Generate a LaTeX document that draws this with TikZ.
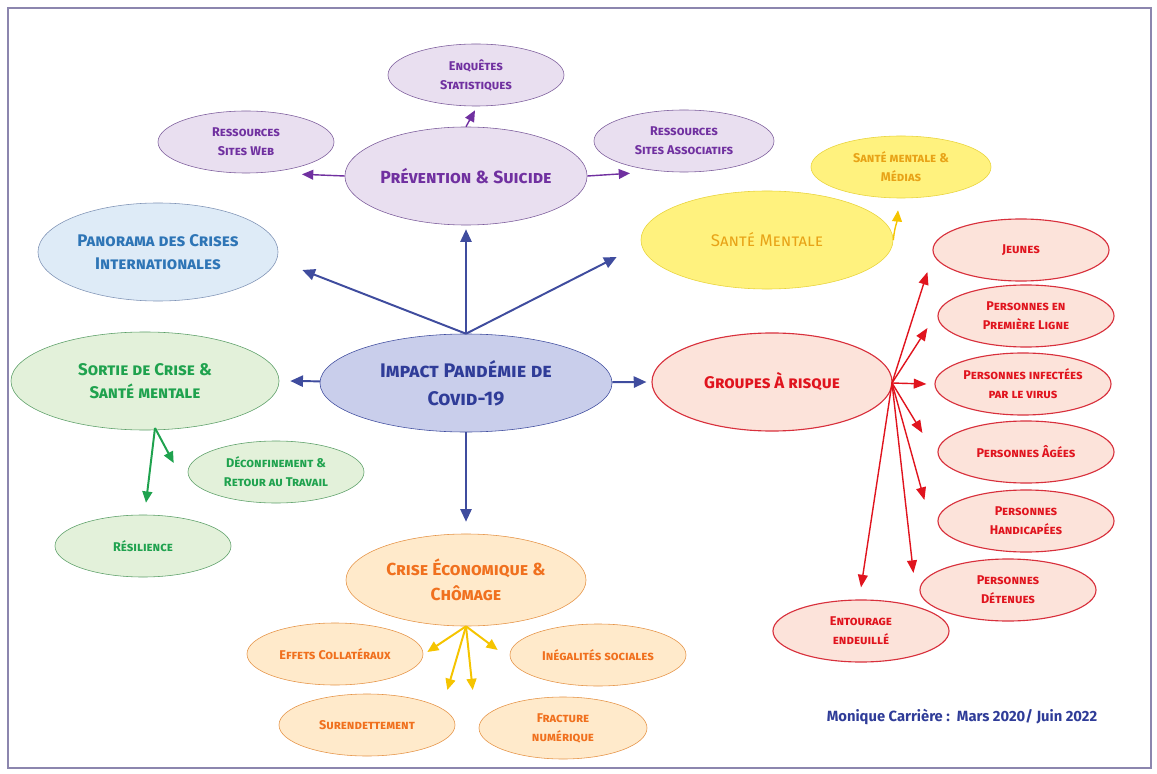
\documentclass[tikz,border=0pt]{standalone}
\usepackage{fontspec}
\setmainfont{Fira Sans}
\usetikzlibrary{shapes.geometric,arrows.meta,calc}

\definecolor{purplefill}{HTML}{E9DFF0}
\definecolor{purpleline}{HTML}{7A5A9A}
\definecolor{purpletext}{HTML}{7030A0}
\definecolor{bluefill}{HTML}{DEEBF7}
\definecolor{blueline}{HTML}{7F93B5}
\definecolor{bluetext}{HTML}{2E75B6}
\definecolor{corefill}{HTML}{C9CEEB}
\definecolor{coreline}{HTML}{3F4C9E}
\definecolor{coretext}{HTML}{2F3C98}
\definecolor{yellowfill}{HTML}{FFF27E}
\definecolor{yellowline}{HTML}{E8D33A}
\definecolor{yellowtext}{HTML}{E8A317}
\definecolor{yellowarrow}{HTML}{F5C400}
\definecolor{redfill}{HTML}{FCE3DA}
\definecolor{redline}{HTML}{D8303C}
\definecolor{redtext}{HTML}{E0141E}
\definecolor{greenfill}{HTML}{E3F1DA}
\definecolor{greenline}{HTML}{5A9E66}
\definecolor{greentext}{HTML}{1FA24E}
\definecolor{orangefill}{HTML}{FFEACB}
\definecolor{orangeline}{HTML}{E59244}
\definecolor{orangetext}{HTML}{F0701E}
\definecolor{framecol}{HTML}{8C86AE}

\begin{document}
\begin{tikzpicture}[x=0.025cm,y=-0.025cm,
	every node/.style={ellipse,draw,align=center,inner sep=0,font=\bfseries\scshape},
	big/.style={minimum width=6cm,minimum height=2.45cm,font=\fontsize{12}{16}\selectfont\bfseries\scshape},
	leaf/.style={minimum width=4.4cm,minimum height=1.55cm,font=\fontsize{9}{13.5}\selectfont\bfseries\scshape},
	prev/.style={fill=purplefill,draw=purpleline,text=purpletext},
	pano/.style={fill=bluefill,draw=blueline,text=bluetext},
	core/.style={fill=corefill,draw=coreline,text=coretext},
	ment/.style={fill=yellowfill,draw=yellowline,text=yellowtext},
	risk/.style={fill=redfill,draw=redline,text=redtext,thick},
	exit/.style={fill=greenfill,draw=greenline,text=greentext},
	econ/.style={fill=orangefill,draw=orangeline,text=orangetext},
	link/.style={-{Triangle[length=9pt,width=8pt]},line width=1.4pt},
	twig/.style={-{Triangle[length=8pt,width=7pt]},line width=1pt}]
% page and frame
\useasboundingbox (0,0) rectangle (1157,774);
\draw[framecol,line width=1pt] (8,8) rectangle (1151,768);

% centre
\node[big,core,minimum width=7.3cm,font=\fontsize{14}{20}\selectfont\bfseries\scshape] (covid) at (466,383) {Impact Pandémie de\\Covid-19};

% prevention branch
\node[big,prev,font=\fontsize{12.5}{16}\selectfont\bfseries\scshape] (prev) at (466,176) {Prévention \& Suicide};
\node[leaf,prev] (enq) at (476,75) {Enquêtes\\Statistiques};
\node[leaf,prev] (web) at (246,142) {Ressources\\Sites Web};
\node[leaf,prev,minimum width=4.5cm] (asso) at (684,141) {Ressources\\Sites Associatifs};

% panorama and mental health
\node[big,pano] (pano) at (158,252) {Panorama des Crises\\Internationales};
\node[big,ment,minimum width=6.3cm] (ment) at (767,240) {\mdseries Santé Mentale};
\node[leaf,ment,minimum width=4.5cm] (media) at (901,167) {Santé mentale \&\\Médias};

% risk groups
\node[big,risk] (risk) at (772,382) {Groupes À risque};
\node[leaf,risk] (young) at (1021,250) {Jeunes};
\node[leaf,risk] (front) at (1026,316) {Personnes en\\Première Ligne};
\node[leaf,risk] (virus) at (1023,384) {Personnes infectées\\par le virus};
\node[leaf,risk] (old) at (1026,452) {Personnes Âgées};
\node[leaf,risk] (handi) at (1026,521) {Personnes\\Handicapées};
\node[leaf,risk] (jail) at (1008,590) {Personnes\\Détenues};
\node[leaf,risk] (grief) at (861,631) {Entourage\\endeuillé};

% way out of the crisis
\node[big,exit,minimum width=6.7cm] (exit) at (145,381) {Sortie de Crise \&\\Santé mentale};
\node[leaf,exit] (deconf) at (276,472) {Déconfinement \&\\Retour au Travail};
\node[leaf,exit] (resil) at (143,546) {Résilience};

% economic crisis
\node[big,econ,minimum height=2.3cm,font=\fontsize{12.4}{18}\selectfont\bfseries\scshape] (econ) at (466,580) {Crise Économique \&\\Chômage};
\node[leaf,econ] (coll) at (335,654) {Effets Collatéraux};
\node[leaf,econ] (ineq) at (598,655) {Inégalités sociales};
\node[leaf,econ,minimum width=4.4cm] (debt) at (367,725) {Surendettement};
\node[leaf,econ,minimum width=4.2cm] (digit) at (563,728) {Fracture\\numérique};

\node[draw=none,font=\fontsize{10.5}{12}\selectfont\bfseries,text=coretext] (sign) at (962,717) {Monique Carrière :\ \ Mars 2020/ Juin 2022};

% arrows out of the centre
\coordinate (top) at (covid.north);
\begin{scope}[coreline,link]
\draw (top) -- ($(prev.south)+(0,4)$);
\draw (top) -- ($(pano.east)+(24,18)$);
\draw (top) -- ($(ment.west)+(-24,17)$);
\draw (covid) -- ($(exit.east)+(11,0)$);
\draw (covid) -- ($(risk.west)+(-5,0)$);
\draw (covid) -- ($(econ.north)+(0,-12)$);
\end{scope}

% sub-branches
\begin{scope}[purpletext,twig]
\draw (prev.north) -- ($(enq.south)+(-1,4)$);
\draw (prev.west) -- ($(web.south)+(56,1)$);
\draw (prev.east) -- ($(asso.south)+(-54,1)$);
\end{scope}
\draw[yellowarrow,twig] (ment.east) to[out=85,in=-95] ($(media.south)+(-3,12)$);
\coordinate (hub) at (892,383);
\begin{scope}[redtext,-{Triangle[length=9pt,width=7pt]},line width=1pt]
\draw (hub) -- ($(young.west)+(-5,22)$);
\draw (hub) -- ($(front.west)+(-10,12)$);
\draw (hub) -- ($(virus.west)+(-8,0)$);
\draw (hub) -- ($(old.west)+(-15,-19)$);
\draw (hub) -- ($(handi.west)+(-13,-21)$);
\draw (hub) -- ($(jail.west)+(-6,-17)$);
\draw (hub) -- ($(grief.north)+(0,-12)$);
\end{scope}
\coordinate (foot) at (155,428);
\begin{scope}[greentext,twig,line width=1.4pt]
\draw (foot) -- ($(deconf.west)+(-14,-9)$);
\draw (foot) -- ($(resil.north)+(3,-12)$);
\end{scope}
\coordinate (base) at (econ.south);
\begin{scope}[yellowarrow,twig,line width=1.4pt]
\draw (base) -- ($(coll.east)+(4,-2)$);
\draw (base) -- ($(ineq.west)+(-12,-5)$);
\draw (base) -- ($(debt.east)+(-8,-35)$);
\draw (base) -- ($(digit.west)+(-6,-38)$);
\end{scope}
\end{tikzpicture}
\end{document}
